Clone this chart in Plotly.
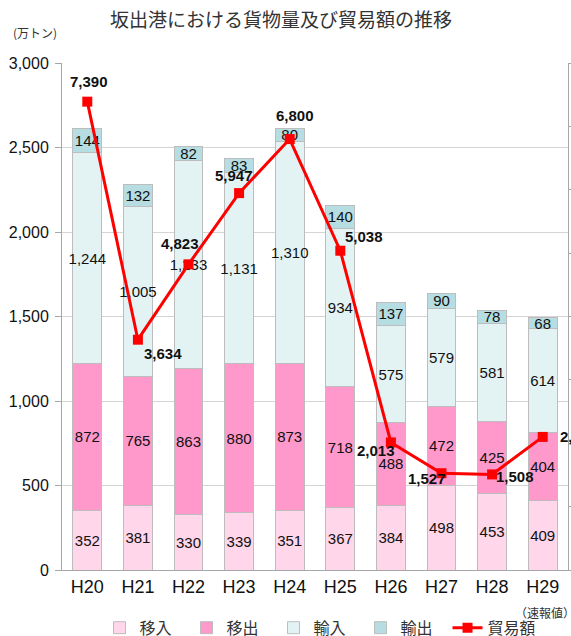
import plotly.graph_objects as go

years = ["H20", "H21", "H22", "H23", "H24", "H25", "H26", "H27", "H28", "H29"]
inbound_dom = [352, 381, 330, 339, 351, 367, 384, 498, 453, 409]   # 移入
outbound_dom = [872, 765, 863, 880, 873, 718, 488, 472, 425, 404]  # 移出
imports = [1244, 1005, 1233, 1131, 1310, 934, 575, 579, 581, 614]  # 輸入
exports = [144, 132, 82, 83, 80, 140, 137, 90, 78, 68]             # 輸出
trade = [7390, 3634, 4823, 5947, 6800, 5038, 2013, 1527, 1508, 2100]  # 貿易額
trade_labels = ["7,390", "3,634", "4,823", "5,947", "6,800", "5,038", "2,013", "1,527", "1,508", "2,100"]
y_ticks = [0, 500, 1000, 1500, 2000, 2500, 3000]

# label offsets (px) for line labels
lab_dx = [2, 25, -9, -5, 5, 24, -15, -15, 23, 15]
lab_dy = [20, -14, 21, 18, 24, 14, -8, -5, -2, 0]

font_main = "Liberation Sans, Arial, Noto Sans CJK JP, sans-serif"
font_jp = "Noto Sans CJK JP, sans-serif"

series = [
    ("移入", inbound_dom, "#FFD6EA"),
    ("移出", outbound_dom, "#FF99CC"),
    ("輸入", imports, "#E3F3F4"),
    ("輸出", exports, "#B6DEE2"),
]

fig = go.Figure()
for name, vals, col in series:
    fig.add_trace(go.Bar(
        x=years, y=vals, name=name,
        marker=dict(color=col, line=dict(color="#BDBDBD", width=1)),
        text=[f"{v:,}" for v in vals], textposition="inside",
        insidetextanchor="middle", textangle=0, constraintext="none",
        textfont=dict(size=15, color="#111111", family=font_main),
        width=0.57, cliponaxis=False,
    ))

fig.add_trace(go.Scatter(
    x=years, y=trade, name="貿易額", yaxis="y2", mode="lines+markers",
    line=dict(color="#FF0000", width=3),
    marker=dict(symbol="square", size=10, color="#FF0000"),
    cliponaxis=False,
))

for i, (yr, v, lab) in enumerate(zip(years, trade, trade_labels)):
    fig.add_annotation(
        x=yr, y=v, xref="x", yref="y2", text=f"<b>{lab}</b>", showarrow=False,
        xshift=lab_dx[i], yshift=lab_dy[i],
        xanchor="left" if i == len(years) - 1 else "center",
        font=dict(size=15, color="#111111", family=font_main),
    )

fig.add_annotation(xref="paper", yref="paper", x=-0.1, y=1.06, xanchor="left",
                   yanchor="middle",
                   text="(万トン)", showarrow=False,
                   font=dict(size=12, color="#333333", family=font_jp))
fig.add_annotation(xref="paper", yref="paper", x=0.955, y=-0.084, xanchor="center",
                   yanchor="middle",
                   text="（速報値）", showarrow=False,
                   font=dict(size=12, color="#333333", family=font_jp))

fig.update_layout(
    width=571, height=636,
    margin=dict(l=62, r=3, t=63, b=66, autoexpand=False),
    paper_bgcolor="white", plot_bgcolor="white",
    title=dict(text="坂出港における貨物量及び貿易額の推移", x=0.492, xanchor="center",
               y=0.968, yanchor="middle",
               font=dict(size=19, color="#333333", family=font_jp)),
    barmode="stack", bargap=0.43,
    uniformtext=dict(minsize=15, mode="show"),
    xaxis=dict(showline=True, linecolor="#A6A6A6", ticks="", automargin=False,
               range=[-0.5, len(years) - 0.5],
               tickfont=dict(size=18, color="#111111", family=font_main)),
    yaxis=dict(range=[0, 3000], tickvals=y_ticks, tickformat=",", automargin=False,
               showgrid=True, gridcolor="#D4D4D4", gridwidth=1,
               showline=True, linecolor="#A6A6A6", ticks="outside", ticklen=6,
               tickcolor="#A6A6A6", zeroline=False, ticklabelstandoff=3,
               tickfont=dict(size=16, color="#111111", family=font_main)),
    yaxis2=dict(range=[0, 8000], dtick=1000, overlaying="y", side="right",
                automargin=False,
                showgrid=False, showticklabels=False, showline=True,
                linecolor="#A6A6A6", ticks="outside", ticklen=4, tickcolor="#A6A6A6",
                zeroline=False),
    legend=dict(orientation="h", x=0.504, xanchor="center", y=-0.114, yanchor="middle",
                font=dict(size=16, color="#333333", family=font_jp),
                itemwidth=30, entrywidth=42, entrywidthmode="pixels",
                traceorder="normal"),
    showlegend=True,
)

fig.write_html(
    "out.html",
    config={"displayModeBar": False},
    post_script="document.body.style.margin='0';document.body.style.overflow='hidden';",
)
